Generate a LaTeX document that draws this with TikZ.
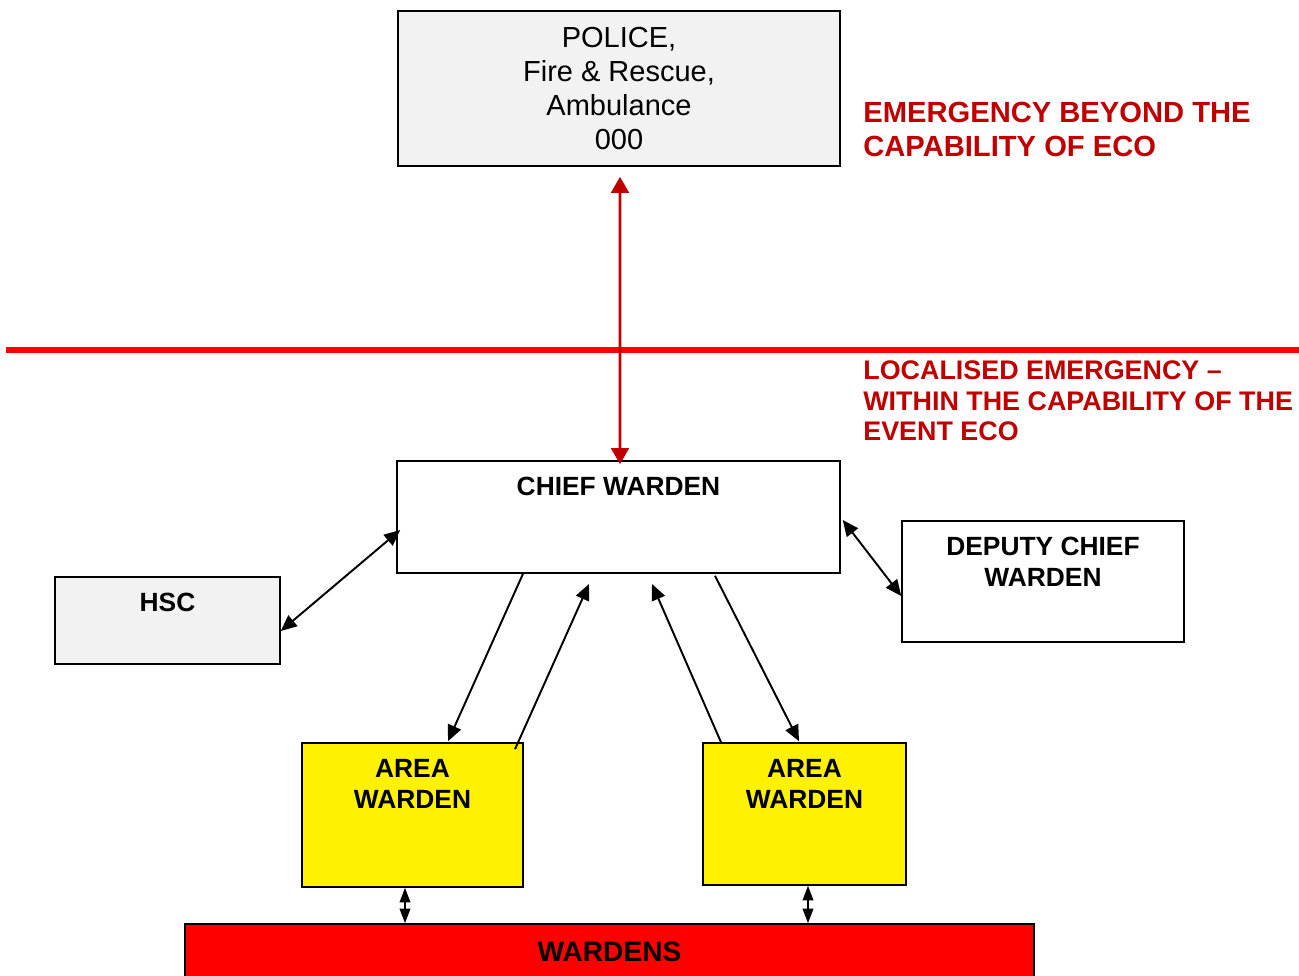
\documentclass[tikz,border=0pt]{standalone}
\usepackage{fontspec}
\setmainfont{Liberation Sans}
\usetikzlibrary{calc,arrows.meta}
\definecolor{PaleGrey}{HTML}{F2F2F2}
\definecolor{DarkRed}{HTML}{C00000}

\begin{document}
\begin{tikzpicture}[
        x=0.02cm, y=-0.02cm,
        box/.style={draw, line width=0.9pt, inner sep=0pt, align=center},
        toptext/.style={anchor=north, align=center, inner sep=0pt, yshift=-0.34cm,
            font=\fontsize{15}{17.6}\selectfont\bfseries},
        note/.style={anchor=north west, align=left, inner sep=0pt, text=DarkRed},
        link/.style={line width=1.1pt},
        >={Triangle[length=3.2mm, width=2.8mm]}
    ]
        \useasboundingbox (0,0) rectangle (1299,976);
        % boxes
        \node[box, fill=PaleGrey, minimum width=8.84cm, minimum height=3.1cm,
            font=\fontsize{16.5}{19.3}\selectfont] (police) at (619,88.5)
            {POLICE,\\Fire \& Rescue,\\Ambulance\\000};
        \node[box, fill=white, minimum width=8.86cm, minimum height=2.24cm,
            label={[toptext]north:CHIEF WARDEN}] (chief) at (618.5,517) {};
        \node[box, fill=white, minimum width=5.64cm, minimum height=2.42cm,
            label={[toptext]north:DEPUTY CHIEF\\WARDEN}] (deputy) at (1043,581.5) {};
        \node[box, fill=PaleGrey, minimum width=4.5cm, minimum height=1.74cm,
            label={[toptext]north:HSC}] (hsc) at (167.5,620.5) {};
        \node[box, fill=yellow, minimum width=4.42cm, minimum height=2.88cm,
            label={[toptext]north:AREA\\WARDEN}] (aw1) at (412.5,815) {};
        \node[box, fill=yellow, minimum width=4.06cm, minimum height=2.84cm,
            label={[toptext]north:AREA\\WARDEN}] (aw2) at (804.5,814) {};
        \node[box, fill=red, minimum width=16.98cm, minimum height=1.12cm,
            font=\fontsize{16}{19}\selectfont\bfseries] (wardens) at (609.5,952) {WARDENS};

        % red notes
        \node[note, font=\fontsize{16.6}{19.3}\selectfont\bfseries] (beyond) at (863,101.5)
            {EMERGENCY BEYOND THE\\CAPABILITY OF ECO};
        \node[note, font=\fontsize{15.3}{17.6}\selectfont\bfseries] (local) at (863,360)
            {LOCALISED EMERGENCY --\\WITHIN THE CAPABILITY OF THE\\EVENT ECO};
        \draw[red, line width=2.9pt] (6,350) -- (1299,350);

        % connectors
        \draw[DarkRed, line width=1.7pt, {Triangle[length=3.2mm, width=3.5mm]}-{Triangle[length=3.2mm, width=3.5mm]},
            shorten <=0.2cm, shorten >=-0.08cm] ($(police.south)+(1,0)$) -- ($(chief.north)+(1.5,0)$);
        \draw[link, <->] ($(hsc.east)+(0,10.5)$) -- ($(chief.west)+(4,13)$);
        \draw[link, <->] ($(chief.east)+(2,3)$) -- ($(deputy.west)+(0,14.5)$);
        \coordinate (up1) at (589,584);
        \coordinate (up2) at (652,584);
        \draw[link, ->] ($(chief.south)+(-95.5,0)$) -- ($(aw1.north)+(35.5,-1)$);
        \draw[link, ->] ($(aw1.north)+(102.5,7)$) -- (up1);
        \draw[link, ->] ($(aw2.north)+(-83.5,0)$) -- (up2);
        \draw[link, ->] ($(chief.south)+(96.5,2)$) -- ($(aw2.north)+(-5.5,-1)$);
        \coordinate (w1) at ($(aw1.south)+(-7.5,0)$);
        \coordinate (w2) at ($(aw2.south)+(3.5,0)$);
        \draw[link, {Triangle[length=2.9mm, width=2.1mm]}-{Triangle[length=2.9mm, width=2.1mm]}]
            (w1) -- (w1 |- wardens.north);
        \draw[link, {Triangle[length=2.9mm, width=2.1mm]}-{Triangle[length=2.9mm, width=2.1mm]}]
            (w2) -- (w2 |- wardens.north);
    \end{tikzpicture}
\end{document}
